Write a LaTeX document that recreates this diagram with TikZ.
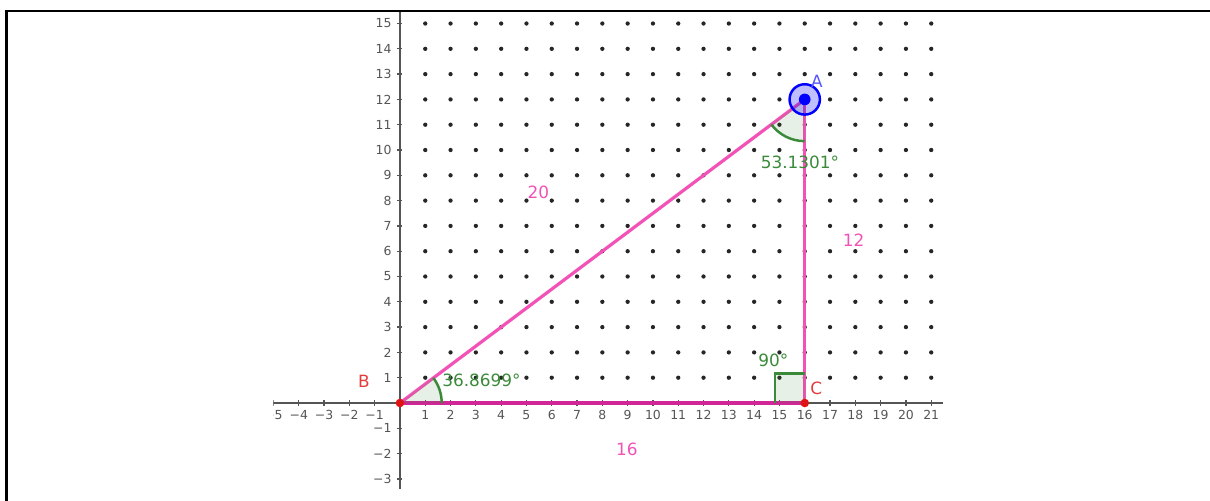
\documentclass[tikz,border=0pt]{standalone}
\usepackage{fontspec}
\setmainfont{DejaVu Sans}
\usetikzlibrary{positioning}
\definecolor{segpink}{RGB}{242,82,182}
\definecolor{segdeep}{RGB}{208,38,152}
\definecolor{anggreen}{RGB}{58,138,58}
\definecolor{axisgray}{RGB}{85,85,85}
\definecolor{ptred}{RGB}{222,20,20}
\definecolor{labred}{RGB}{228,60,60}
\definecolor{labblue}{RGB}{85,85,255}

\begin{document}
\begin{tikzpicture}[x=0.5cm,y=0.5cm,
	seg/.style={line width=1.8pt,segpink},
	angline/.style={line width=1.4pt,anggreen},
	angfill/.style={fill=anggreen,fill opacity=0.13},
	ticklab/.style={font=\fontsize{7}{8}\selectfont,text=axisgray,inner sep=1pt},
	anglab/.style={font=\fontsize{9.5}{11}\selectfont,text=anggreen},
	sidelab/.style={font=\fontsize{9.5}{11}\selectfont,text=segpink}]
\useasboundingbox (-15.81,-3.87) rectangle (32.02,15.93);
% frame
	\draw[line width=1.4pt] (-15.55,-4) -- (-15.55,15.49) -- (32.2,15.49);
% graphics view
\begin{scope}
	\clip (-5,-3.36) rectangle (21.6,15.42);
% x-y axis
	\draw[axisgray,line width=0.85pt] (-5,0) -- (21.45,0);
	\draw[axisgray,line width=0.85pt] (0,-3.4) -- (0,15.5);
% ticks and numbers
	\foreach \x [evaluate=\x as \ax using {int(abs(\x))}] in {-5,...,21}{
		\draw[axisgray,line width=0.7pt] (\x,-0.1) -- (\x,0.1);
		\ifnum\x=0 \else
		\node[ticklab,anchor=north] (xt\x) at (\x,-0.22) {\ifnum\x<0 −\fi\ax};
		\fi}
	\foreach \y [evaluate=\y as \ay using {int(abs(\y))}] in {-3,...,15}{
		\draw[axisgray,line width=0.7pt] (-0.1,\y) -- (0.1,\y);
		\ifnum\y=0 \else
		\node[ticklab,anchor=east] (yt\y) at (-0.25,\y) {\ifnum\y<0 −\fi\ay};
		\fi}
% dot grid
	\foreach \x in {1,...,21}
		\foreach \y in {1,...,15}
			\fill[black!85] (\x,\y) circle (0.085);
\end{scope}
% vertices
	\coordinate (B) at (0,0);
	\coordinate (C) at (16,0);
	\coordinate (A) at (16,12);
% sides
	\draw[seg] (B) -- (A);
	\draw[seg] (A) -- (C);
	\draw[seg,segdeep] (B) -- (C);
% angle at B
	\fill[angfill] (B) -- ++(0:1.65) arc[start angle=0,end angle=36.87,radius=1.65] -- cycle;
	\draw[angline] (B) ++(0:1.65) arc[start angle=0,end angle=36.87,radius=1.65];
% angle at A
	\fill[angfill] (A) -- ++(216.87:1.65) arc[start angle=216.87,end angle=270,radius=1.65] -- cycle;
	\draw[angline] (A) ++(216.87:1.65) arc[start angle=216.87,end angle=270,radius=1.65];
% right angle at C
	\fill[angfill] (C) rectangle ++(-1.17,1.17);
	\draw[angline] (C) ++(-1.17,0) -- ++(0,1.17) -- ++(1.17,0);
% points
	\fill[ptred] (B) circle (0.17);
	\fill[ptred] (C) circle (0.17);
	\filldraw[blue,fill opacity=0.25,line width=1.4pt] (A) circle (0.6);
	\fill[blue] (A) circle (0.23);
% labels
	\node[font=\fontsize{9.5}{11}\selectfont,text=labblue] (labA) at (16.48,12.73) {A};
	\node[font=\fontsize{9.5}{11}\selectfont,text=labred] (labB) at (-1.42,0.87) {B};
	\node[font=\fontsize{9.5}{11}\selectfont,text=labred] (labC) at (16.46,0.59) {C};
	\node[anglab] (angB) at (3.22,0.91) {36.8699°};
	\node[anglab] (angA) at (15.81,9.53) {53.1301°};
	\node[anglab] (angC) at (14.76,1.68) {90°};
	\node[sidelab] (sideAB) at (5.47,8.34) {20};
	\node[sidelab] (sideAC) at (17.93,6.44) {12};
	\node[sidelab] (sideBC) at (8.97,-1.82) {16};
\end{tikzpicture}
\end{document}
